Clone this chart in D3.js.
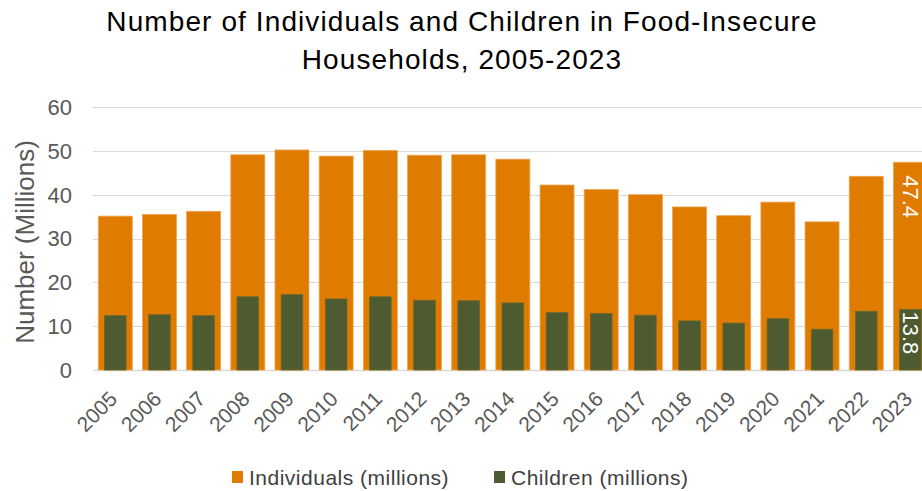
<!DOCTYPE html>
<html>
<head>
<meta charset="utf-8">
<script src="https://cdn.jsdelivr.net/npm/d3@7"></script>
<style>
  html, body { margin: 0; padding: 0; background: #fff; }
  svg { display: block; font-family: "Liberation Sans", Arial, sans-serif; }
</style>
</head>
<body>
<div id="chart"></div>
<script>
const years = ['2005','2006','2007','2008','2009','2010','2011','2012','2013','2014',
               '2015','2016','2017','2018','2019','2020','2021','2022','2023'];
const individuals = [35.1, 35.5, 36.2, 49.1, 50.2, 48.8, 50.1, 49.0, 49.1, 48.1,
                     42.2, 41.2, 40.0, 37.2, 35.2, 38.3, 33.8, 44.2, 47.4];
const children = [12.4, 12.6, 12.4, 16.7, 17.2, 16.2, 16.7, 15.9, 15.8, 15.3,
                  13.1, 12.9, 12.5, 11.2, 10.7, 11.7, 9.3, 13.4, 13.8];
const yTicks = [0, 10, 20, 30, 40, 50, 60];
const seriesNames = ['Individuals (millions)', 'Children (millions)'];
const titleLines = ['Number of Individuals and Children in Food-Insecure', 'Households, 2005-2023'];

const W = 922, H = 491;
const colors = { ind: '#df7c00', chi: '#4e5a30' };
const plot = { left: 93.2, right: 932.5, top: 107, bottom: 370 };

const svg = d3.select('#chart').append('svg')
  .attr('width', W).attr('height', H);

const x = d3.scaleBand()
  .domain(years)
  .range([plot.left, plot.right])
  .paddingInner(0.23)
  .paddingOuter(0.115);

const y = d3.scaleLinear()
  .domain([0, 60])
  .range([plot.bottom, plot.top]);

// Title
svg.append('g').selectAll('text')
  .data(titleLines).enter()
  .append('text')
  .attr('x', 462).attr('y', (d, i) => 31 + i * 38)
  .attr('text-anchor', 'middle')
  .attr('fill', '#000')
  .style('font-size', '28px')
  .style('letter-spacing', '1.1px')
  .text(d => d);

// Grid lines
svg.append('g')
  .selectAll('line')
  .data(yTicks).enter()
  .append('line')
  .attr('x1', plot.left).attr('x2', W)
  .attr('y1', d => Math.round(y(d)) + 0.5).attr('y2', d => Math.round(y(d)) + 0.5)
  .attr('stroke', '#d9d9d9')
  .attr('stroke-width', d => d === 0 ? 1.6 : 1);

// Y tick labels
svg.append('g')
  .selectAll('text')
  .data(yTicks).enter()
  .append('text')
  .attr('x', 72).attr('y', d => y(d))
  .attr('dy', '0.36em')
  .attr('text-anchor', 'end')
  .attr('fill', '#595959')
  .style('font-size', '22px')
  .text(d => d);

// Y axis title
svg.append('text')
  .attr('transform', 'translate(34,242) rotate(-90)')
  .attr('text-anchor', 'middle')
  .attr('fill', '#595959')
  .style('font-size', '26px')
  .text('Number (Millions)');

// Individuals bars
const indW = x.bandwidth();
svg.append('g')
  .selectAll('rect')
  .data(years).enter()
  .append('rect')
  .attr('x', d => x(d))
  .attr('y', (d, i) => y(individuals[i]))
  .attr('width', indW)
  .attr('height', (d, i) => y(0) - y(individuals[i]))
  .attr('fill', colors.ind)
  .attr('stroke', '#eea655')
  .attr('stroke-width', 0.8);

// Children bars (narrower, overlapping)
const chiW = x.step() * 0.49;
svg.append('g')
  .selectAll('rect')
  .data(years).enter()
  .append('rect')
  .attr('x', d => x(d) + (indW - chiW) / 2)
  .attr('y', (d, i) => y(children[i]))
  .attr('width', chiW)
  .attr('height', (d, i) => y(0) - y(children[i]))
  .attr('fill', colors.chi)
  .attr('stroke', '#6a6a2e')
  .attr('stroke-width', 0.8);

// Data labels on the last year
const last = years.length - 1;
const cxLast = x(years[last]) + indW / 2;
[[individuals[last], 13], [children[last], 2]].forEach(([v, pad]) => {
  svg.append('text')
    .attr('transform', `translate(${cxLast},${y(v) + pad}) rotate(90)`)
    .attr('dy', '0.35em')
    .attr('text-anchor', 'start')
    .attr('fill', '#fff')
    .style('font-size', '22px')
    .text(v.toFixed(1));
});

// X labels
svg.append('g')
  .selectAll('text')
  .data(years).enter()
  .append('text')
  .attr('transform', d => `translate(${x(d) + indW / 2 - 2},${plot.bottom + 25}) rotate(-45)`)
  .attr('dy', '0.35em')
  .attr('text-anchor', 'end')
  .attr('fill', '#595959')
  .style('font-size', '21px')
  .text(d => d);

// Legend
const legend = svg.append('g');
const legendX = [232, 494];
seriesNames.forEach((name, i) => {
  legend.append('rect')
    .attr('x', legendX[i]).attr('y', 471)
    .attr('width', 11).attr('height', 12)
    .attr('fill', i === 0 ? colors.ind : colors.chi);
  legend.append('text')
    .attr('x', legendX[i] + 17).attr('y', 485)
    .attr('fill', '#404040')
    .style('font-size', '21px')
    .style('letter-spacing', '0.5px')
    .text(name);
});
</script>
</body>
</html>
